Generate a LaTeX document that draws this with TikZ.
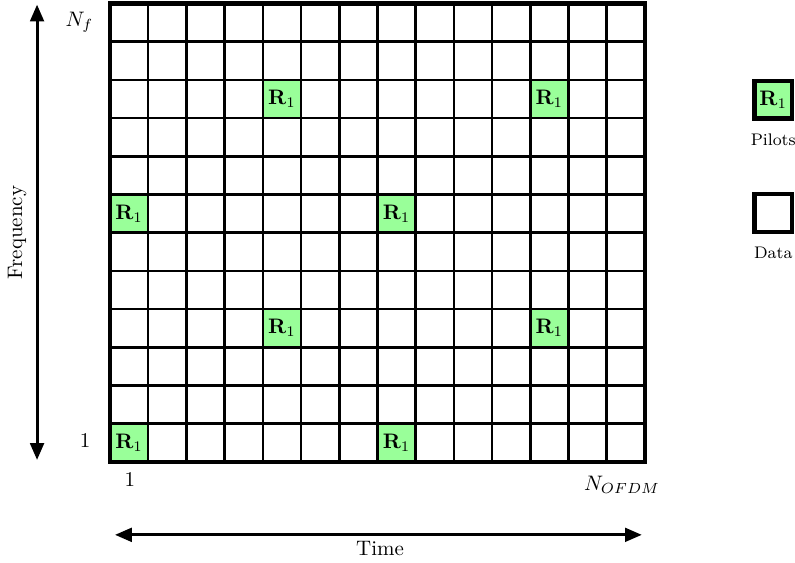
\documentclass[tikz,border=0pt]{standalone}
\usepackage{amsmath,amssymb}
\usepackage{tikz}
\usetikzlibrary{arrows.meta,positioning}
\usepackage{xcolor}
\definecolor{pilotgreen}{HTML}{99FF99}

\begin{document}
\begin{tikzpicture}[
  x=0.64cm, y=0.64cm,
  pilot/.style={
    rectangle, fill=pilotgreen, inner sep=0pt,
    minimum size=0.64cm
  },
  legbox/.style={
    rectangle, draw=black, line width=2pt, inner sep=0pt,
    minimum size=0.63cm
  },
  arr/.style={{Triangle[length=8pt,width=6.5pt]}-{Triangle[length=8pt,width=6.5pt]}, line width=1.4pt},
  lbl/.style={font=\footnotesize},
]
  \useasboundingbox (-2.88,-2.64) rectangle (17.93,12.09);

  % pilot positions (column, row)
  \foreach \c/\r in {1/1, 8/1, 5/4, 12/4, 1/7, 8/7, 5/10, 12/10}
    \node[pilot] (p\c-\r) at (\c-0.5,\r-0.5) {$\mathbf{R}_1$};

  % resource grid
  \draw[line width=1.2pt, step=1] (0,0) grid (14,12);
  \draw[line width=2pt] (0,0) rectangle (14,12);

  % axis labels
  \node (nf) at (-0.8,11.5) {$N_f$};
  \node (one-f) at (-0.65,0.55) {$1$};
  \node (one-t) at (0.52,-0.47) {$1$};
  \node (nofdm) at (13.4,-0.6) {$N_{OFDM}$};

  % frequency and time arrows
  \coordinate (f0) at (-1.91,0.05);
  \coordinate (f1) at (-1.91,11.97);
  \draw[arr] (f0) -- (f1);
  \node[rotate=90] (freq) at (-2.43,6.0) {Frequency};

  \coordinate (t0) at (0.13,-1.91);
  \coordinate (t1) at (13.92,-1.91);
  \draw[arr] (t0) -- (t1);
  \node (time) at (7.07,-2.28) {Time};

  % legend
  \node[legbox, fill=pilotgreen] (legp) at (17.36,9.48) {$\mathbf{R}_1$};
  \node[lbl, below=0.1cm of legp] (legpt) {Pilots};
  \node[legbox, fill=white] (legd) at (17.36,6.51) {};
  \node[lbl, below=0.1cm of legd] (legdt) {Data};
\end{tikzpicture}
\end{document}
